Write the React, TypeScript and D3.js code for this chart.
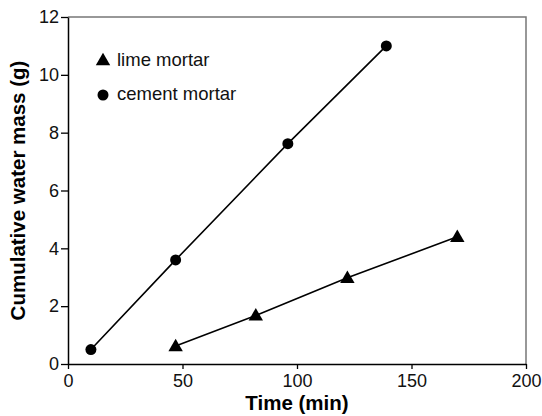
import React, { useEffect, useRef } from 'react'
import * as d3 from 'd3'

// values
const limeTime = [47, 82, 122, 170]
const limeMass = [0.62, 1.68, 2.98, 4.4]
const cementTime = [10, 47, 96, 139]
const cementMass = [0.5, 3.6, 7.62, 11.0]
const xTicks = [0, 50, 100, 150, 200]
const yTicks = [0, 2, 4, 6, 8, 10, 12]
const legendLabels = ['lime mortar', 'cement mortar']

export default function App() {
  const ref = useRef<SVGSVGElement>(null)

  useEffect(() => {
    const width = 542
    const height = 416
    const margin = { top: 17, right: 16, bottom: 52, left: 68 }
    const font = 'Liberation Sans, Arial, Helvetica, sans-serif'

    const svg = d3.select(ref.current)
    svg.selectAll('*').remove()

    const x = d3.scaleLinear().domain([0, 200]).range([margin.left, width - margin.right])
    const y = d3.scaleLinear().domain([0, 12]).range([height - margin.bottom, margin.top])

    // frame: top and right in grey
    svg.append('path')
      .attr('d', `M${x(0)},${y(12)}H${x(200)}V${y(0)}`)
      .attr('fill', 'none')
      .attr('stroke', '#777')
      .attr('stroke-width', 1.5)

    // x axis
    const xAxis = svg.append('g')
      .attr('transform', `translate(0,${y(0)})`)
      .call(d3.axisBottom(x).tickValues(xTicks).tickSize(5).tickSizeOuter(0).tickPadding(5))
    xAxis.select('.domain').attr('stroke', '#000').attr('stroke-width', 1.5)
    xAxis.selectAll('.tick line').attr('stroke', '#000').attr('stroke-width', 1.3)
    xAxis.selectAll('text').attr('font-family', font).attr('font-size', 18).attr('fill', '#111')

    // y axis
    const yAxis = svg.append('g')
      .attr('transform', `translate(${x(0)},0)`)
      .call(d3.axisLeft(y).tickValues(yTicks).tickSize(7).tickSizeOuter(0).tickPadding(2))
    yAxis.select('.domain').attr('stroke', '#000').attr('stroke-width', 1.5)
    yAxis.selectAll('.tick line').attr('stroke', '#000').attr('stroke-width', 1.3)
    yAxis.selectAll('text').attr('font-family', font).attr('font-size', 18).attr('fill', '#111')

    // axis titles
    svg.append('text')
      .attr('x', (x(0) + x(200)) / 2)
      .attr('y', 410)
      .attr('text-anchor', 'middle')
      .attr('font-family', font)
      .attr('font-weight', 'bold')
      .attr('font-size', 20.5)
      .text('Time (min)')

    svg.append('text')
      .attr('transform', `translate(25,${(y(0) + y(12)) / 2}) rotate(-90)`)
      .attr('text-anchor', 'middle')
      .attr('font-family', font)
      .attr('font-weight', 'bold')
      .attr('font-size', 20.5)
      .text('Cumulative water mass (g)')

    const line = d3.line<number>()
    const triangle = d3.symbol().type(d3.symbolTriangle).size(90)

    // cement mortar
    const cement = cementTime.map((t, i) => [x(t), y(cementMass[i])] as [number, number])
    svg.append('path')
      .attr('d', d3.line()(cement))
      .attr('fill', 'none')
      .attr('stroke', '#000')
      .attr('stroke-width', 1.6)
    svg.selectAll('.cem')
      .data(cement)
      .enter()
      .append('circle')
      .attr('cx', d => d[0])
      .attr('cy', d => d[1])
      .attr('r', 5.5)
      .attr('fill', '#000')

    // lime mortar
    const lime = limeTime.map((t, i) => [x(t), y(limeMass[i])] as [number, number])
    svg.append('path')
      .attr('d', d3.line()(lime))
      .attr('fill', 'none')
      .attr('stroke', '#000')
      .attr('stroke-width', 1.6)
    svg.selectAll('.lime')
      .data(lime)
      .enter()
      .append('path')
      .attr('d', triangle)
      .attr('transform', d => `translate(${d[0]},${d[1] + 1})`)
      .attr('fill', '#000')

    // legend
    const legend = svg.append('g')
    legend.append('path')
      .attr('d', triangle)
      .attr('transform', 'translate(103,61)')
      .attr('fill', '#000')
    legend.append('circle')
      .attr('cx', 103)
      .attr('cy', 95)
      .attr('r', 5.5)
      .attr('fill', '#000')
    legend.selectAll('text')
      .data(legendLabels)
      .enter()
      .append('text')
      .attr('x', 117)
      .attr('y', (d, i) => 66 + i * 34)
      .attr('font-family', font)
      .attr('font-size', 18.5)
      .attr('fill', '#111')
      .text(d => d)
  }, [])

  return (
    <svg ref={ref} width={542} height={416}
      style={{ position: 'absolute', left: 0, top: 0, background: '#fff' }} />
  )
}
